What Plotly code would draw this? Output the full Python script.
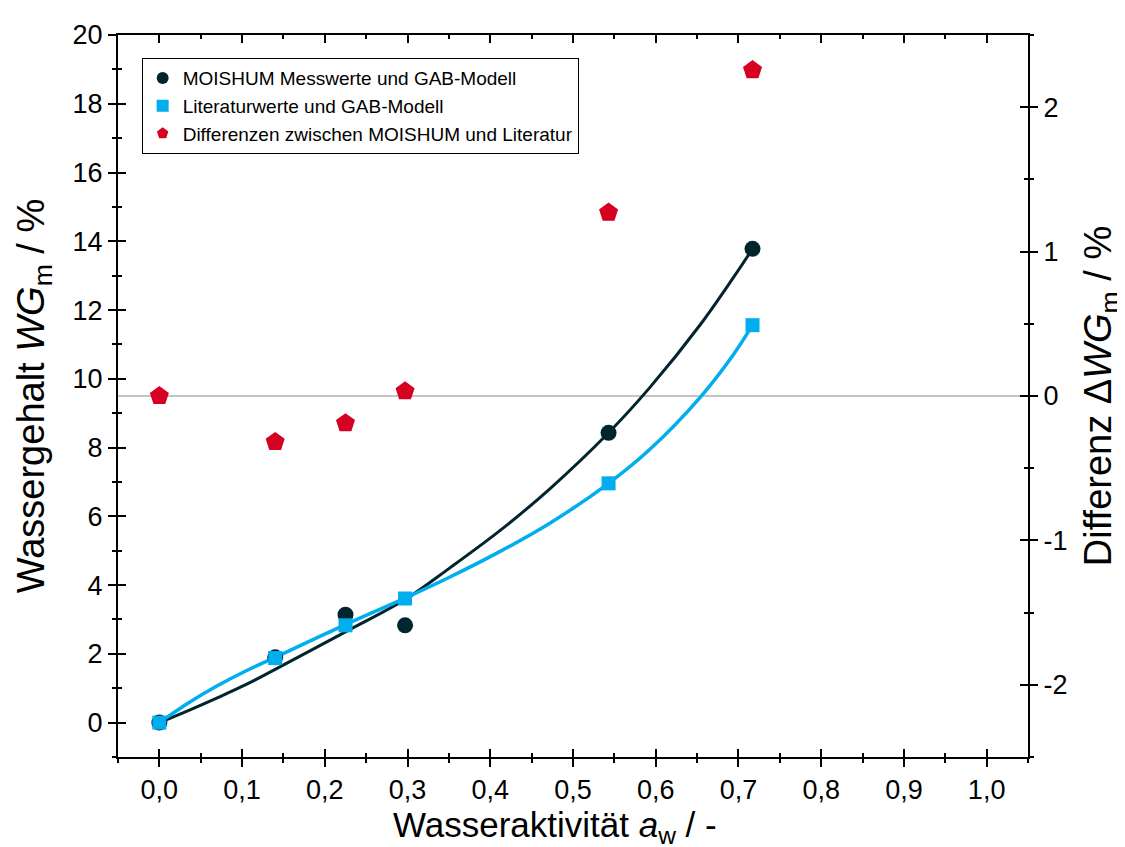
import plotly.graph_objects as go

# ---- data ----
aw_points = [0.0, 0.14, 0.225, 0.297, 0.543, 0.717]
moishum_wg = [0.0, 1.90, 3.14, 2.83, 8.43, 13.78]
literatur_wg = [0.0, 1.88, 2.83, 3.61, 6.96, 11.56]
differenz_wg = [0.0, -0.318, -0.188, 0.033, 1.27, 2.257]

# GAB model curves
aw_curve = [0.0, 0.035, 0.07, 0.105, 0.14, 0.225, 0.297, 0.35, 0.412, 0.472, 0.543, 0.593, 0.654, 0.694, 0.717]
moishum_gab = [0.0, 0.35, 0.72, 1.11, 1.55, 2.64, 3.58, 4.48, 5.59, 6.80, 8.43, 9.75, 11.58, 12.95, 13.78]
literatur_gab = [0.0, 0.57, 1.07, 1.51, 1.90, 2.85, 3.62, 4.22, 4.98, 5.80, 6.96, 7.95, 9.47, 10.71, 11.56]

right_tickvals = [-2, -1, 0, 1, 2]
right_ticktext = ["-2", "-1", "0", "1", "2"]

legend_names = [
    "MOISHUM Messwerte und GAB-Modell",
    "Literaturwerte und GAB-Modell",
    "Differenzen zwischen MOISHUM und Literatur",
]

DARK = "#00252f"
BLUE = "#00aeef"
RED = "#d50022"
FONT = "Liberation Sans, Arial, sans-serif"

fig = go.Figure()

fig.add_trace(go.Scatter(x=aw_curve, y=moishum_gab, mode="lines",
                         line=dict(color=DARK, width=3, shape="spline", smoothing=1.0),
                         showlegend=False, hoverinfo="skip"))
fig.add_trace(go.Scatter(x=aw_curve, y=literatur_gab, mode="lines",
                         line=dict(color=BLUE, width=3.5, shape="spline", smoothing=1.0),
                         showlegend=False, hoverinfo="skip"))
fig.add_trace(go.Scatter(x=aw_points, y=moishum_wg, mode="markers", name=legend_names[0],
                         marker=dict(symbol="circle", size=16, color=DARK)))
fig.add_trace(go.Scatter(x=aw_points, y=literatur_wg, mode="markers", name=legend_names[1],
                         marker=dict(symbol="square", size=14, color=BLUE)))
fig.add_trace(go.Scatter(x=aw_points, y=differenz_wg, mode="markers", name=legend_names[2],
                         marker=dict(symbol="pentagon", size=20, color=RED), yaxis="y2"))

# invisible traces to activate the overlay tick axes
for xa, ya in [("x2", "y"), ("x3", "y"), ("x", "y3"), ("x", "y4")]:
    fig.add_trace(go.Scatter(x=[0], y=[0], xaxis=xa, yaxis=ya, mode="markers",
                             marker=dict(opacity=0), showlegend=False, hoverinfo="skip"))

XR = [-0.05, 1.05]
YR = [-1, 20]
Y2R = [-2.5, 2.5]
tickfont = dict(family=FONT, size=27, color="black")
common = dict(showgrid=False, zeroline=False, showline=True, linecolor="black", linewidth=2,
              tickcolor="black", tickwidth=2)

def minor(dt, side):
    return dict(dtick=dt, tick0=0, ticks=side, ticklen=4, tickwidth=2, tickcolor="black")

fig.update_layout(
    width=1117, height=839,
    margin=dict(l=110, r=97, t=17, b=90),
    paper_bgcolor="white", plot_bgcolor="white",
    separators=",.",
    font=dict(family=FONT, color="black"),
    xaxis=dict(range=XR, dtick=0.1, tick0=0, tickformat=".1f", ticks="outside", ticklen=8,
               minor=minor(0.05, "outside"), tickfont=tickfont, **common),
    xaxis2=dict(range=XR, overlaying="x", side="bottom", dtick=0.1, tick0=0, ticks="inside", ticklen=8,
                minor=minor(0.05, "inside"), showticklabels=False, **common),
    xaxis3=dict(range=XR, overlaying="x", side="top", dtick=0.1, tick0=0, ticks="inside", ticklen=8,
                minor=minor(0.05, "inside"), showticklabels=False, **common),
    yaxis=dict(range=YR, dtick=2, tick0=0, ticks="outside", ticklen=8,
               minor=minor(1, "outside"), tickfont=tickfont,
               title=dict(text="Wassergehalt <i>WG</i><sub>m</sub> / %", font=dict(family=FONT, size=38), standoff=16),
               **common),
    yaxis3=dict(range=YR, overlaying="y", side="left", dtick=2, tick0=0, ticks="inside", ticklen=8,
                minor=minor(1, "inside"), showticklabels=False, **common),
    yaxis2=dict(range=Y2R, overlaying="y", side="right", tickvals=right_tickvals, ticktext=right_ticktext,
                ticks="outside", ticklen=8, minor=minor(0.5, "outside"), tickfont=tickfont,
                title=dict(text="Differenz Δ<i>WG</i><sub>m</sub> / %", font=dict(family=FONT, size=38), standoff=19),
                **common),
    yaxis4=dict(range=Y2R, overlaying="y", side="right", tickvals=right_tickvals, ticks="inside", ticklen=8,
                minor=minor(0.5, "inside"), showticklabels=False, **common),
    legend=dict(x=0.026, y=0.968, xanchor="left", yanchor="top", bgcolor="white",
                bordercolor="black", borderwidth=1, font=dict(family=FONT, size=19),
                tracegroupgap=0, itemsizing="constant"),
    shapes=[dict(type="line", xref="paper", yref="y2", x0=0, x1=1, y0=0, y1=0,
                 line=dict(color="#b0b0b0", width=1.5), layer="below")],
    annotations=[dict(text="Wasseraktivität <i>a</i><sub>w</sub> / -", xref="paper", yref="paper",
                      x=0.48, y=-0.097, xanchor="center", yanchor="middle", showarrow=False,
                      font=dict(family=FONT, size=35, color="black"))],
)

fig.write_html("out.html")
